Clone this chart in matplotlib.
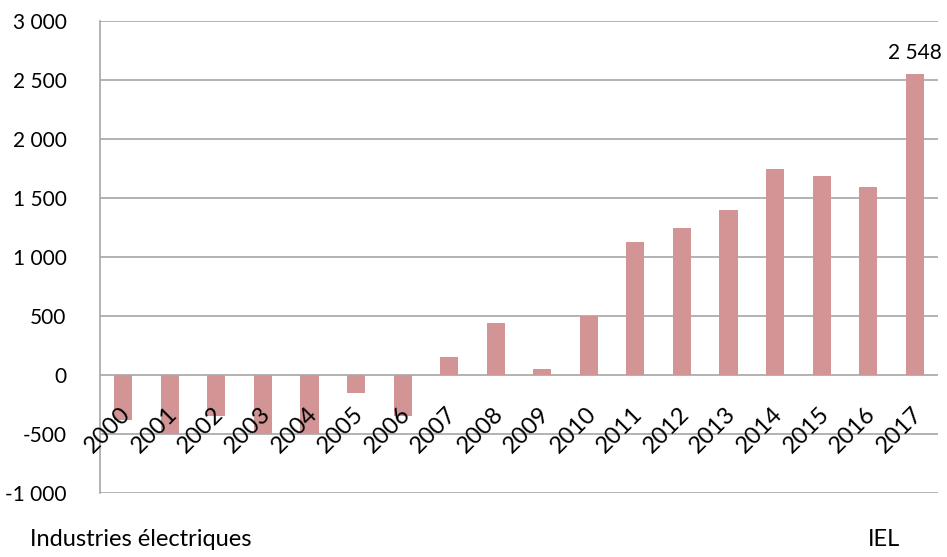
import numpy as np
import matplotlib.pyplot as plt
from matplotlib.ticker import FuncFormatter
import matplotlib.transforms as mtransforms

plt.rcParams['font.family'] = ['Lato', 'DejaVu Sans']

years = [str(y) for y in range(2000, 2018)]
values = [-380, -500, -350, -500, -500, -150, -350, 150, 440, 50,
          500, 1130, 1250, 1400, 1750, 1690, 1590, 2548]

fig = plt.figure(figsize=(9.47, 5.57), dpi=100)
ax = fig.add_axes([100 / 947, 64 / 557, 838 / 947, 472 / 557])

x = np.arange(len(years))
ax.bar(x, values, width=0.39, color='#d29494', zorder=3)

ax.set_xlim(-0.5, len(years) - 0.5)
ax.set_ylim(-1000, 3000)
ax.set_yticks(np.arange(-1000, 3001, 500))
ax.yaxis.set_major_formatter(FuncFormatter(lambda v, p: f"{int(v):,}".replace(",", " ")))
ax.tick_params(axis='y', length=0, labelsize=15, pad=24)
ax.grid(axis='y', color='#a6a6a6', linewidth=1.2, zorder=0)

for s in ['top', 'right', 'bottom']:
    ax.spines[s].set_visible(False)
ax.spines['left'].set_color('#a6a6a6')
ax.spines['left'].set_linewidth(1.2)

# category labels at the zero line, rotated like the original
ax.set_xticks([])
offset = mtransforms.ScaledTranslation(4 / 100, -36 / 100, fig.dpi_scale_trans)
for xi, lab in zip(x, years):
    ax.text(xi, 0, lab, rotation=45, rotation_mode='anchor', ha='right', va='center',
            fontsize=17, transform=ax.transData + offset)

ax.annotate(f"{values[-1]:,}".replace(",", " "), (x[-1], values[-1]),
            xytext=(0, 8), textcoords='offset points', ha='center', va='bottom', fontsize=15)

fig.text(30 / 947, 17 / 557, 'Industries électriques', fontsize=17, va='center')
fig.text(868 / 947, 17 / 557, 'IEL', fontsize=17, va='center')

fig.savefig('out.png', dpi=100)
